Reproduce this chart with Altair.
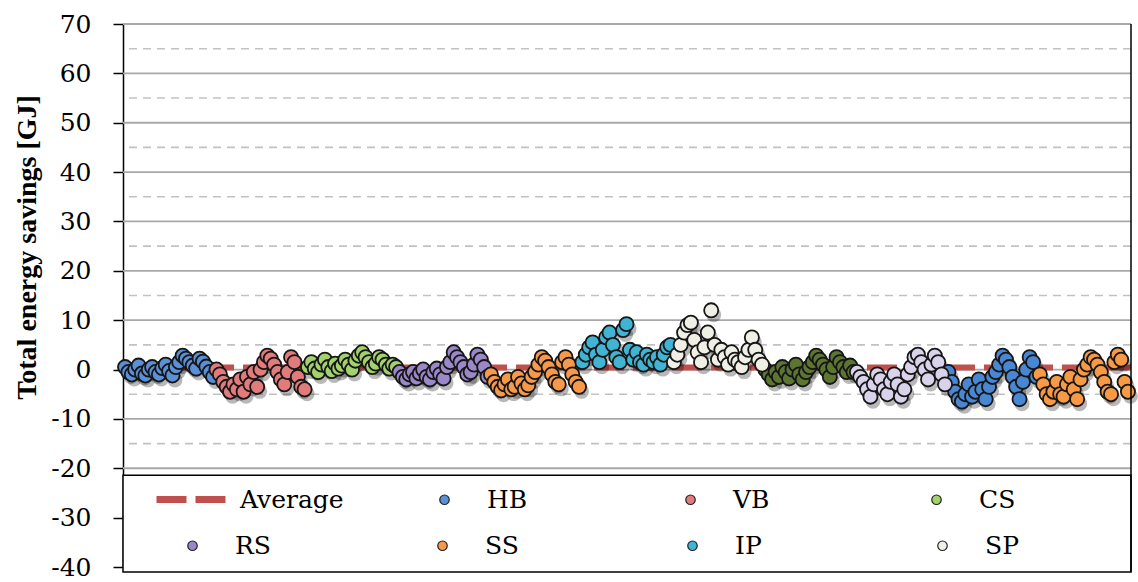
import altair as alt
import pandas as pd

# Series names in plotting order (the "b" runs are the second set of cases)
GROUPS = ["HB", "VB", "CS", "RS", "SS", "IP", "SP", "CS b", "RS b", "HB b", "SS b"]
FILLS = {
    "HB": "#5b8fd6", "VB": "#e27c7c", "CS": "#a3d16c", "RS": "#9a88c8",
    "SS": "#f7994a", "IP": "#41b3d3", "SP": "#efefe6",
    "CS b": "#5c7632", "RS b": "#d8d2ea", "HB b": "#4a87d2", "SS b": "#f89a45",
}

# Total energy savings per case [GJ]
hb = [0.5, -0.5, -1, 0, 0.8, -0.8, -1.2, 0, 0.5, -0.5, -1, 0.3, 1, -0.3, -1.2, 0.5,
      1.5, 2.8, 2.2, 1.5, 0.8, 0.2, 2.2, 1.6, 0.6, -0.5, -1.5]
vb = [0, -1, -2.5, -3.5, -4.5, -3, -4, -2, -4.5, -1.5, -3, -0.5, -3.5, 0, 1.5, 2.8,
      2.2, 1, -0.5, -2, -3, -0.5, 2.5, 1.5, -1.5, -3.5, -4]
cs = [0.5, 1.5, 0.2, -0.5, 1, 2, 0.5, -0.3, 1.2, 0.2, 0.8, 2, 1, 0, 1.8, 2.8, 3.5,
      2.5, 1.5, 0.5, 1.2, 2.5, 2, 1, 0.2, 1, 0.5]
rs = [-0.5, -1.5, -2, -1, -0.5, -1.8, -0.8, 0, -1.5, -2, -0.5, 0.2, -1, -1.8, 0.5,
      1.5, 3.5, 2.5, 1.5, 0.5, -1, -0.5, 1, 3, 2, 0.5, -1.5]
ss = [-1, -2.5, -3.5, -4.2, -3, -2, -4, -3.5, -1.5, -2.8, -4, -3.2, -1.5, -0.5, 1,
      2.5, 1.8, 0.5, -1, -2.5, -3, 1.5, 2.5, 1, -1, -2.5, -3.5]
ip = [1.5, 3, 4.5, 5.5, 3, 1.5, 4, 6.5, 7.5, 5, 2.5, 1.5, 8, 9.2, 4, 2, 3.5, 1.5, 1,
      3, 2, 1.5, 2.5, 1, 3, 4.5, 5]
sp = [1.5, 3, 5, 7.5, 9, 9.5, 6, 3.5, 1.5, 4.5, 7.5, 12, 5, 2, 4, 2.5, 1, 3.5, 2,
      1.5, 0.5, 2.5, 4, 6.5, 4, 2, 1]
cs_b = [0, -1, -2, -0.5, -1.5, 0.5, -0.5, -1.8, 0, 1, -1, -2, -0.5, 0.5, 1.5, 2.8,
        2, 1, 0, -1.5, 0.5, 2.5, 1.5, 0.5, -0.5, 0.8, -0.5]
rs_b = [-0.5, -1.5, -2.5, -4, -5.5, -3, -1, -2, -4, -5, -2.5, -1, -3, -5.5, -4, -1,
        0.5, 2.5, 3, 1.5, 0, -2, 1, 2.8, 1.5, -1, -3]
hb_b = [-0.5, -2.5, -4.5, -6, -6.5, -5, -3, -5.5, -4.5, -2, -4, -6, -3.5, -1.5, -0.5,
        1, 2.8, 2, 0.5, -1.5, -3.5, -6, -2.5, 0, 2.5, 1.5, -1.5]
ss_b = [-1, -3, -5, -6, -4.5, -2.5, -5, -5.5, -3, -1.5, -4, -6, -2, 0, 1, 2.5, 2, 1,
        -0.5, -2.5, -4.5, -5, 1.5, 3, 2, -2.5, -4.5]
SERIES = [hb, vb, cs, rs, ss, ip, sp, cs_b, rs_b, hb_b, ss_b]

AVERAGE = 0.4

Y_TICKS = [-40, -30, -20, -10, 0, 10, 20, 30, 40, 50, 60, 70]
GRID_SOLID = [-20, -10, 0, 10, 20, 30, 40, 50, 60, 70]
GRID_DASHED = [-15, -5, 5, 15, 25, 35, 45, 55, 65]

LEGEND_A = ["HB", "VB", "CS"]
LEGEND_B = ["RS", "SS", "IP", "SP"]
SET_A = ["HB", "VB", "CS", "CS b", "HB b"]
SET_B = ["RS", "SS", "IP", "SP", "RS b", "SS b"]

rows = []
i = 0
for name, vals in zip(GROUPS, SERIES):
    for v in vals:
        rows.append({"case": i, "savings": v, "grp": name})
        i += 1
pts = pd.DataFrame(rows)

X_MIN, X_MAX = -0.6, i - 1 + 0.9
Y_MIN, Y_MAX = -40, 70
BOX_BOTTOM, BOX_TOP = -41.0, -21.4

xs = alt.Scale(domain=[X_MIN, X_MAX], nice=False, zero=False)
ys = alt.Scale(domain=[Y_MIN, Y_MAX], nice=False, zero=False)

Y_AXIS = alt.Axis(values=Y_TICKS, grid=False, tickSize=10, tickWidth=1.5,
                  tickColor="black", domainColor="black", domainWidth=1.5,
                  labelExpr="'' + datum.value",
                  labelFont="DejaVu Serif", labelFontSize=25, labelColor="black",
                  labelPadding=22,
                  title="Total energy savings [GJ]", titleFont="Liberation Serif",
                  titleFontSize=28, titleFontWeight="bold", titleColor="black",
                  titleX=-96, titleY=223, titleAlign="center",
                  titleBaseline="middle", titleAngle=-90)


def X(field):
    return alt.X(field, scale=xs, axis=None)


def Y(field="savings:Q"):
    return alt.Y(field, scale=ys, axis=Y_AXIS)


solid = alt.Chart(pd.DataFrame({"savings": GRID_SOLID})).mark_rule(
    color="#a8a8a8", strokeWidth=1.8).encode(y=Y())
dashed = alt.Chart(pd.DataFrame({"savings": GRID_DASHED})).mark_rule(
    color="#c2c2c2", strokeWidth=1.6, strokeDash=[8, 6]).encode(y=Y())

box = alt.Chart(pd.DataFrame({"x0": [X_MIN], "x1": [X_MAX],
                              "savings": [BOX_BOTTOM], "top": [BOX_TOP]})
                ).mark_rect(fill="white", stroke="black", strokeWidth=1.5).encode(
    x=X("x0:Q"), x2="x1:Q", y=Y(), y2="top:Q")

avg = alt.Chart(pd.DataFrame({"series": ["Average"], "savings": [AVERAGE]})).mark_rule(
    color="#c0504d", strokeWidth=6).encode(
    y=Y(),
    strokeDash=alt.StrokeDash(
        "series:N", scale=alt.Scale(domain=["Average"], range=[[30, 9]]),
        legend=alt.Legend(orient="none", legendX=30, legendY=437, title=None,
                          symbolType="stroke", symbolSize=4900, symbolStrokeWidth=7,
                          symbolStrokeColor="#c0504d", labelOffset=10,
                          labelFont="DejaVu Serif", labelFontSize=25,
                          labelColor="black", padding=0)))

shadow = alt.Chart(pts).mark_circle(size=225, color="black", opacity=0.28).encode(
    x=X("case:Q"), y=Y(), xOffset=alt.value(2.5), yOffset=alt.value(4.5))


def point_layer(names, shown, lx, ly, col_pad):
    return alt.Chart(pts).transform_filter(
        alt.FieldOneOfPredicate(field="grp", oneOf=names)
    ).mark_circle(size=200, stroke="#161616", strokeWidth=1.8, opacity=1).encode(
        x=X("case:Q"), y=Y(),
        fill=alt.Fill("grp:N", scale=alt.Scale(domain=names,
                                               range=[FILLS[n] for n in names]),
                      legend=alt.Legend(values=shown, orient="none", legendX=lx,
                                        legendY=ly, columns=len(shown),
                                        columnPadding=col_pad, gridAlign="all",
                                        title=None, symbolType="circle", symbolSize=90,
                                        symbolStrokeColor="#222222",
                                        symbolStrokeWidth=1.2, symbolOpacity=1,
                                        labelOffset=30, labelFont="DejaVu Serif",
                                        labelFontSize=25, labelColor="black",
                                        padding=0)),
        order=alt.Order("case:Q"))


pts_a = point_layer(SET_A, LEGEND_A, 309, 463, 150)
pts_b = point_layer(SET_B, LEGEND_B, 57, 509, 159)

border = alt.Chart(pd.DataFrame({"x": [X_MAX], "savings": [BOX_BOTTOM],
                                 "top": [Y_MAX]})).mark_rule(
    color="black", strokeWidth=1.5).encode(x=X("x:Q"), y=Y(), y2="top:Q")

chart = alt.layer(
    solid, dashed, box, avg, shadow, pts_a, pts_b, border
).resolve_scale(fill="independent").properties(
    width=1008, height=543,
    padding={"left": 123, "top": 24, "right": 7, "bottom": 15},
    autosize="none", background="white",
).configure_view(stroke=None)

chart.save("out.html", embed_options={"renderer": "svg", "actions": False})
